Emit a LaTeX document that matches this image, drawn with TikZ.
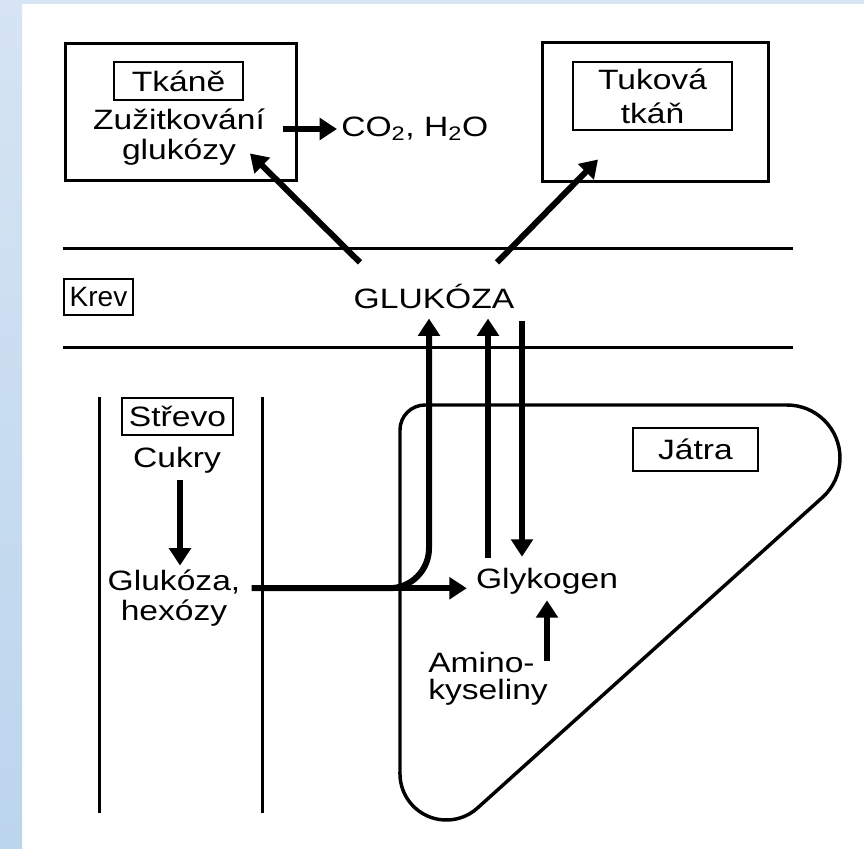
\documentclass[tikz,border=0pt]{standalone}
\usepackage{fontspec}
\setmainfont{Liberation Sans}[FakeStretch=1.2]
\newfontfamily\narrowsans{Liberation Sans}
\usetikzlibrary{arrows.meta,fit,calc}
\definecolor{stripTop}{RGB}{214,228,243}
\definecolor{stripBot}{RGB}{187,213,237}
\AtBeginDocument{\lineskiplimit=-30pt\relax}
\begin{document}
\begin{tikzpicture}[x=0.75pt,y=-0.75pt,
  txt/.style={inner sep=0pt, align=center, font=\fontsize{21}{22.5}\selectfont},
  bigbox/.style={draw, line width=2.25pt, inner sep=0pt},
  lblbox/.style={draw, line width=1.6pt, inner sep=0pt, align=center, font=\fontsize{21}{25.5}\selectfont},
  thinline/.style={line width=2.25pt},
  arr/.style={line width=4.5pt, -{Triangle[length=13pt,width=16pt]}}]
\useasboundingbox (0,0) rectangle (864,849);
\fill[white] (0,0) rectangle (864,849);
\shade[top color=stripTop, bottom color=stripBot] (0,0) rectangle (22,849);
\fill[stripTop] (0,0) rectangle (864,4);

% tissues
\node[bigbox, fit={(65,44)(296,180)}] (tkbox) {};
\node[lblbox, minimum width=96.75pt, minimum height=28.5pt] (tkl) at (178.5,81) {Tkáně};
\node[txt] (zuz) at (179,137) {Zužitkování\\glukózy};
\node[txt, anchor=west] (co2) at (341,129) {CO\textsubscript{2}, H\textsubscript{2}O};

\node[bigbox, fit={(542,43)(768,181)}] (tukbox) {};
\node[lblbox, minimum width=119.25pt, minimum height=51pt] (tukl) at (652.5,96) {Tuková\\tkáň};

% blood
\draw[thinline] (63,248) -- (793,248);
\draw[thinline] (63,347) -- (793,347);
\node[lblbox, minimum width=51.75pt, minimum height=27pt, font=\fontsize{21}{25}\narrowsans] (krev) at (98.5,297) {Krev};
\node[txt] (glu) at (434,296) {GLUKÓZA};

% intestine
\draw[thinline] (99,397) -- (99,813);
\draw[thinline] (262,397) -- (262,813);
\node[lblbox, minimum width=83.25pt, minimum height=27.75pt] (strevo) at (177.5,416.5) {Střevo};
\node[txt] (cukry) at (177,460) {Cukry};
\node[txt] (hex) at (174,598) {Glukóza,\\hexózy};

% liver
\draw[line width=2.6pt] (400,773.6) -- (400,430)
  arc[start angle=180, end angle=270, radius=25] -- (787,405)
  arc[start angle=-90, end angle=48, radius=53] -- (477.4,808.1)
  arc[start angle=48, end angle=180, radius=46.4] -- cycle;
\node[lblbox, minimum width=93.75pt, minimum height=32.25pt] (jatra) at (695.5,449.5) {Játra};
\node[txt] (glyk) at (547,581) {Glykogen};
\node[txt, anchor=west, align=left, font=\fontsize{21}{20}\selectfont] (amino) at (428,679) {Amino-\\kyseliny};

% lanes
\coordinate (u1) at ($(glu.south)+(-5,10)$);
\coordinate (u2) at ($(glu.south)+(54,10)$);
\coordinate (d3) at ($(glu.south)+(88,12)$);
\coordinate (h0) at ($(hex.east |- glyk.base)+(11,0)$);

% arrows
\draw[arr, shorten <=13pt, shorten >=3pt] (zuz.east |- co2.west) -- (co2.west);
\draw[arr] ($(glu.north)+(-74,-21)$) -- ($(zuz.south)+(71,-12)$);
\draw[arr] ($(glu.north)+(63,-21)$) -- ($(tukbox.south)+(-57,-23)$);
\draw[arr] ($(cukry.south)+(3,7)$) -- ($(cukry.south |- hex.north)+(3,-4)$);
\draw[arr] (h0) -- ($(glyk.base west)+(-9,0)$);
\draw[arr, rounded corners=30pt] (h0) -- (u1 |- h0) -- (u1);
\draw[arr] ($(u2 |- glyk.north)+(0,-10)$) -- (u2);
\draw[arr] (d3) -- ($(d3 |- glyk.north)+(0,-11)$);
\draw[arr] ($(glyk.south |- amino.north)+(0,9)$) -- ($(glyk.south)+(0,6)$);
\end{tikzpicture}
\end{document}
